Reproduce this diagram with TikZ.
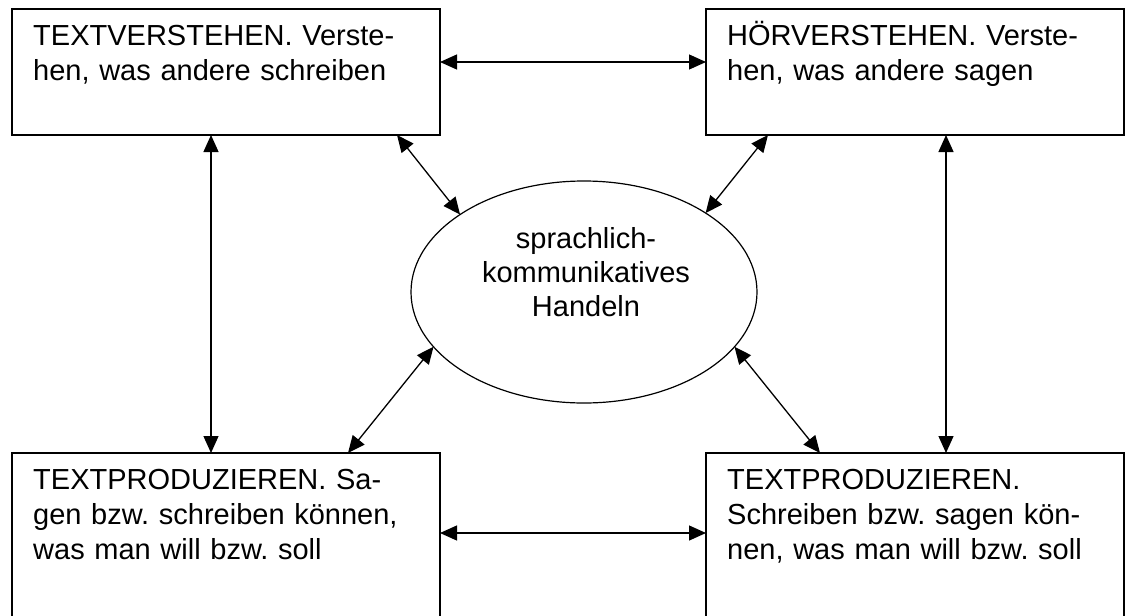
\documentclass[tikz,border=0pt]{standalone}
\usepackage{fontspec}
\setmainfont{Liberation Sans}
\usetikzlibrary{shapes.geometric,arrows.meta,calc}
\frenchspacing
\begin{document}
\begin{tikzpicture}[x=1pt,y=-1pt,
  box/.style={draw,line width=1.5pt,rectangle,anchor=north west,inner sep=0pt,outer sep=0pt},
  txt/.style={anchor=base west,inner sep=0pt,text width=390pt,align=left,font=\fontsize{29}{35}\selectfont},
  arr/.style={line width=1.3pt,{Triangle[length=17pt,width=15pt]}-{Triangle[length=17pt,width=15pt]}}]
\useasboundingbox (0,0) rectangle (1125,616);
\clip (0,0) rectangle (1125,616);
\node[box,minimum width=428pt,minimum height=126pt] (tl) at (12,9) {};
\node[box,minimum width=418pt,minimum height=126pt] (tr) at (706,9) {};
\node[box,minimum width=428pt,minimum height=200pt] (bl) at (12,453) {};
\node[box,minimum width=418pt,minimum height=200pt] (br) at (706,453) {};
\node[txt] (tlt) at ($(tl.north west)+(21,36)$) {TEXTVERSTEHEN. Verste-\\hen, was andere schreiben};
\node[txt] (trt) at ($(tr.north west)+(21,36)$) {HÖRVERSTEHEN. Verste-\\hen, was andere sagen};
\node[txt] (blt) at ($(bl.north west)+(21,36)$) {TEXTPRODUZIEREN. Sa-\\gen bzw. schreiben können,\\was man will bzw. soll};
\node[txt] (brt) at ($(br.north west)+(21,36)$) {TEXTPRODUZIEREN.\\Schreiben bzw. sagen kön-\\nen, was man will bzw. soll};
\node[draw,ellipse,line width=1.2pt,minimum width=346pt,minimum height=222pt,inner sep=0pt,outer sep=0pt] (el) at (584,292) {};
\node[anchor=base,inner sep=0pt,text width=260pt,align=center,font=\fontsize{29}{34}\selectfont] (elt) at (586,248) {sprachlich-\\kommunikatives\\Handeln};
\draw[arr] (tl.east |- 0,62) -- (tr.west |- 0,62);
\draw[arr] (bl.east |- 0,533) -- (br.west |- 0,533);
\draw[arr] (tl.south -| 211,0) -- (bl.north -| 211,0);
\draw[arr] (tr.south -| 946,0) -- (br.north -| 946,0);
\draw[arr] (tl.south -| 397,0) -- (el.148);
\draw[arr] (tr.south -| 768,0) -- (el.33);
\draw[arr] (el.200) -- (bl.north -| 348,0);
\draw[arr] (el.340) -- (br.north -| 820,0);
\end{tikzpicture}
\end{document}
